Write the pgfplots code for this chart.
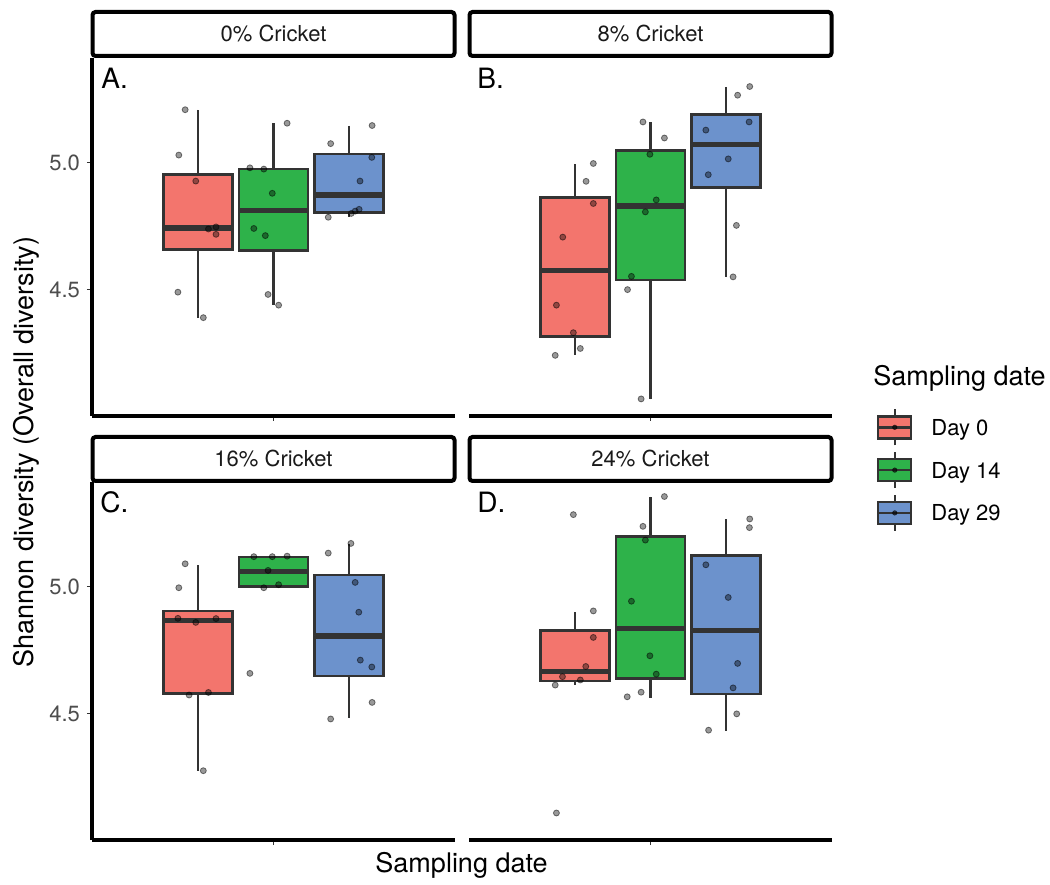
\documentclass[border=0pt]{standalone}
\usepackage{pgfplots}
\pgfplotsset{compat=1.18}
\usepgfplotslibrary{statistics}
\usepackage{fontspec}
\setmainfont{TeX Gyre Heros}
\definecolor{cRed}{RGB}{243,117,109}
\definecolor{cGreen}{RGB}{46,178,74}
\definecolor{cBlue}{RGB}{108,146,204}
\definecolor{boxline}{RGB}{51,51,51}
\definecolor{ticktext}{RGB}{77,77,77}
\definecolor{striptext}{RGB}{26,26,26}

\pgfplotsset{
  panel/.style={
    scale only axis, width=181.5pt, height=179pt,
    xmin=0.4, xmax=1.6, ymin=4.005, ymax=5.41,
    xtick={1}, xticklabels={},
    /pgf/number format/assume math mode=true,
    yticklabel style={/pgf/number format/fixed, /pgf/number format/precision=1,
      /pgf/number format/fixed zerofill, font=\fontsize{11}{13}\selectfont, text=ticktext},
    tick align=outside, major tick length=2.5pt,
    tick style={boxline, line width=0.6pt},
    axis x line*=bottom,
    axis line style={-, black, line width=1.75pt},
    clip=false,
    boxplot/draw direction=y,
    boxplot/every median/.style={line width=2.6pt},
  },
  panelL/.style={panel, axis y line*=left, ytick={4.5,5.0}},
  panelR/.style={panel, axis y line=none, ytick=\empty},
  pts/.style={only marks, mark=*, mark size=1.5pt, forget plot,
    mark options={fill=black, draw=black, fill opacity=0.4, draw opacity=0.5, line width=0.4pt}},
  keyimg/.style={legend image code/.code={
    \draw[boxline, line width=1.2pt] (8.25pt,-9pt) -- (8.25pt,9pt);
    \filldraw[fill=#1, draw=boxline, line width=1.2pt] (0pt,-5.5pt) rectangle (16.5pt,5.5pt);
    \draw[boxline, line width=1.2pt] (0pt,0pt) -- (16.5pt,0pt);
    \fill[black, opacity=0.6] (8.25pt,0pt) circle (1.1pt);
  }},
}
\newcommand\bx[7]{\addplot[boxplot prepared={draw position=#2, lower whisker=#3,
  lower quartile=#4, median=#5, upper quartile=#6, upper whisker=#7,
  box extend=0.228, whisker extend=0}, fill=#1, draw=boxline, line width=1.3pt, solid, forget plot] coordinates {};}

\begin{document}
\begin{tikzpicture}
\begin{scope}[x=0.5pt, y=-0.5pt]
\useasboundingbox (0,0) rectangle (1050,878);
\end{scope}

% Panel A
\begin{axis}[panelL, at={(46pt,-208pt)}, anchor=south west]
\bx{cRed}{0.75}{4.389}{4.659}{4.743}{4.953}{5.207}
\bx{cGreen}{1.00}{4.439}{4.654}{4.810}{4.975}{5.154}
\bx{cBlue}{1.25}{4.786}{4.803}{4.872}{5.034}{5.145}
\addplot[pts] table {
0.708 5.207
0.687 5.029
0.743 4.927
0.785 4.739
0.810 4.747
0.810 4.718
0.684 4.491
0.768 4.391
1.045 5.154
0.922 4.979
0.968 4.974
0.996 4.879
0.935 4.741
0.973 4.713
0.982 4.482
1.017 4.440
1.326 5.145
1.189 5.074
1.325 5.020
1.286 4.927
1.283 4.816
1.270 4.809
1.257 4.800
1.181 4.785
};
\end{axis}

% Panel B
\begin{axis}[panelR, at={(234.5pt,-208pt)}, anchor=south west]
\bx{cRed}{0.75}{4.245}{4.318}{4.575}{4.862}{4.995}
\bx{cGreen}{1.00}{4.070}{4.539}{4.829}{5.048}{5.159}
\bx{cBlue}{1.25}{4.549}{4.902}{5.072}{5.188}{5.297}
\addplot[pts] table {
0.811 4.996
0.787 4.926
0.811 4.839
0.710 4.707
0.689 4.440
0.745 4.332
0.768 4.270
0.685 4.243
0.975 5.159
1.046 5.096
0.998 5.032
1.019 4.853
0.983 4.806
0.937 4.553
0.924 4.501
0.969 4.072
1.328 5.298
1.288 5.264
1.326 5.159
1.183 5.127
1.257 5.014
1.191 4.952
1.284 4.753
1.273 4.551
};
\end{axis}

% Panel C
\begin{axis}[panelL, at={(46pt,-420pt)}, anchor=south west]
\bx{cRed}{0.75}{4.277}{4.581}{4.867}{4.904}{5.085}
\bx{cGreen}{1.00}{4.998}{5.000}{5.060}{5.115}{5.117}
\bx{cBlue}{1.25}{4.482}{4.648}{4.806}{5.045}{5.168}
\addplot[pts] table {
0.708 5.089
0.687 4.995
0.684 4.875
0.743 4.859
0.810 4.874
0.721 4.574
0.785 4.584
0.768 4.277
0.935 5.117
0.996 5.117
1.045 5.119
0.982 5.063
0.968 4.995
1.017 5.007
0.922 4.659
1.256 5.169
1.181 5.131
1.270 5.016
1.282 4.899
1.287 4.711
1.325 4.684
1.326 4.545
1.189 4.480
};
\end{axis}

% Panel D
\begin{axis}[panelR, at={(234.5pt,-420pt)}, anchor=south west,
  legend style={at={(1.123,1.2075)}, anchor=north west, draw=none, fill=none,
    inner sep=0pt, row sep=2.2pt, font=\fontsize{11}{13}\selectfont,
    nodes={inner sep=0pt, text height=8pt, text depth=0pt},
    /tikz/every odd column/.append style={column sep=9.5pt}},
  legend cell align=left]
\bx{cRed}{0.75}{4.613}{4.629}{4.665}{4.827}{4.900}
\bx{cGreen}{1.00}{4.564}{4.638}{4.836}{5.196}{5.353}
\bx{cBlue}{1.25}{4.434}{4.578}{4.828}{5.121}{5.263}
\addplot[pts] table {
0.745 5.282
0.811 4.904
0.811 4.800
0.786 4.686
0.709 4.646
0.768 4.633
0.685 4.613
0.689 4.111
1.046 5.353
0.975 5.236
0.983 5.182
0.937 4.942
0.998 4.728
1.019 4.656
0.969 4.585
0.923 4.567
1.328 5.265
1.327 5.231
1.183 5.085
1.257 4.957
1.288 4.698
1.273 4.602
1.285 4.500
1.192 4.436
};
\addlegendimage{keyimg=cRed}\addlegendentry{Day 0}
\addlegendimage{keyimg=cGreen}\addlegendentry{Day 14}
\addlegendimage{keyimg=cBlue}\addlegendentry{Day 29}
\end{axis}

\begin{scope}[x=0.5pt, y=-0.5pt]
\foreach \cx/\cy/\t in {273.5/34/0\% Cricket, 650.5/34/8\% Cricket, 273.5/459/16\% Cricket, 650.5/459/24\% Cricket}{
  \node[draw=black, line width=2pt, rounded corners=1.5pt, minimum width=181pt,
    minimum height=22pt, inner sep=0pt, font=\fontsize{11}{13}\selectfont, text=striptext]
    at (\cx,\cy) {\t};
}
\node[anchor=base west, inner sep=0pt, font=\fontsize{14}{16}\selectfont] at (101,89) {A.};
\node[anchor=base west, inner sep=0pt, font=\fontsize{14}{16}\selectfont] at (477,89) {B.};
\node[anchor=base west, inner sep=0pt, font=\fontsize{14}{16}\selectfont] at (100,513) {C.};
\node[anchor=base west, inner sep=0pt, font=\fontsize{14}{16}\selectfont] at (477,513) {D.};
\node[rotate=90, font=\fontsize{13.5}{16}\selectfont] at (26.5,452) {Shannon diversity (Overall diversity)};
\node[anchor=base, font=\fontsize{13.5}{16}\selectfont] at (461.5,872) {Sampling date};
\node[anchor=west, inner sep=0pt, font=\fontsize{13.5}{16}\selectfont] at (873,378) {Sampling date};
\end{scope}
\end{tikzpicture}
\end{document}
